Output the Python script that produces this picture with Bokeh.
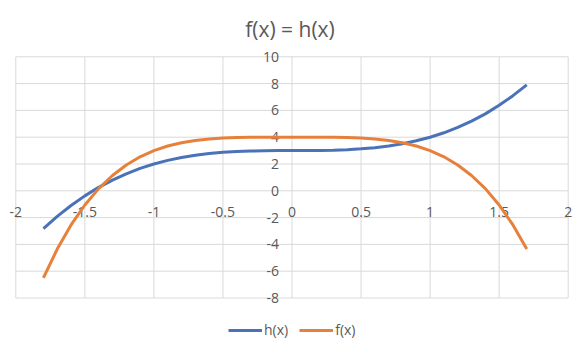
from bokeh.plotting import figure
from bokeh.models import Legend, LegendItem, Range1d, ColumnDataSource, Label
from bokeh.core.properties import value
from bokeh.embed import file_html
from bokeh.resources import INLINE

# ---- data ----
x_vals = [-1.8, -1.7, -1.6, -1.5, -1.4, -1.3, -1.2, -1.1, -1.0, -0.9, -0.8, -0.7,
          -0.6, -0.5, -0.4, -0.3, -0.2, -0.1, 0.0, 0.1, 0.2, 0.3, 0.4, 0.5,
          0.6, 0.7, 0.8, 0.9, 1.0, 1.1, 1.2, 1.3, 1.4, 1.5, 1.6, 1.7]
h_vals = [-2.83, -1.91, -1.10, -0.38, 0.26, 0.80, 1.27, 1.67, 2.00, 2.27, 2.49, 2.66,
          2.78, 2.88, 2.94, 2.97, 2.99, 3.00, 3.00, 3.00, 3.01, 3.03, 3.06, 3.13,
          3.22, 3.34, 3.51, 3.73, 4.00, 4.33, 4.73, 5.20, 5.74, 6.38, 7.10, 7.91]
f_vals = [-6.50, -4.35, -2.55, -1.06, 0.16, 1.14, 1.93, 2.54, 3.00, 3.34, 3.59, 3.76,
          3.87, 3.94, 3.97, 3.99, 4.00, 4.00, 4.00, 4.00, 4.00, 3.99, 3.97, 3.94,
          3.87, 3.76, 3.59, 3.34, 3.00, 2.54, 1.93, 1.14, 0.16, -1.06, -2.55, -4.35]
x_ticks = [-2, -1.5, -1, -0.5, 0, 0.5, 1, 1.5, 2]
x_tick_labels = ["-2", "-1.5", "-1", "-0.5", "0", "0.5", "1", "1.5", "2"]
y_ticks = [-8, -6, -4, -2, 0, 2, 4, 6, 8, 10]
y_tick_labels = ["-8", "-6", "-4", "-2", "0", "2", "4", "6", "8", "10"]
title_text = "f(x) = h(x)"
series_names = ["h(x)", "f(x)"]

# ---- layout (pixels) ----
W, H = 584, 349
PX_LEFT, PX_RIGHT = 15.3, 567.7     # pixel columns of x = -2 and x = 2
PX_TOP, PX_BOTTOM = 56.3, 297.5     # pixel rows of y = 10 and y = -8
xmin, xmax = x_ticks[0], x_ticks[-1]
ymin, ymax = y_ticks[0], y_ticks[-1]
sx = (PX_RIGHT - PX_LEFT) / (xmax - xmin)
sy = (PX_BOTTOM - PX_TOP) / (ymax - ymin)
x_range = Range1d(xmin - PX_LEFT / sx, xmax + (W - PX_RIGHT) / sx)
y_range = Range1d(ymin - (H - PX_BOTTOM) / sy, ymax + PX_TOP / sy)

FONT = "Open Sans"
TXT = "#595959"
GRID = "#d9d9d9"
BLUE = "#4A72B8"
ORANGE = "#E6803A"

p = figure(width=W, height=H, output_backend="svg", toolbar_location=None,
           x_range=x_range, y_range=y_range, title=None,
           x_axis_location=None, y_axis_location=None,
           min_border=0, min_border_left=0, min_border_right=0,
           min_border_top=0, min_border_bottom=0)
p.outline_line_color = None
p.grid.visible = False
p.background_fill_color = "white"
p.border_fill_color = "white"

# gridlines (the lines through 0 act as the axes)
p.segment(x0=x_ticks, y0=[ymin] * len(x_ticks), x1=x_ticks, y1=[ymax] * len(x_ticks),
          line_color=GRID, line_width=1)
p.segment(x0=[xmin] * len(y_ticks), y0=y_ticks, x1=[xmax] * len(y_ticks), y1=y_ticks,
          line_color=GRID, line_width=1)

# tick labels
xsrc = ColumnDataSource(dict(x=x_ticks, y=[0] * len(x_ticks), t=x_tick_labels))
p.text(x="x", y="y", text="t", source=xsrc, text_align="center",
       text_baseline="middle", y_offset=21, text_font=value(FONT),
       text_font_size="14px", text_color=TXT)
ysrc = ColumnDataSource(dict(x=[0] * len(y_ticks), y=y_ticks, t=y_tick_labels))
p.text(x="x", y="y", text="t", source=ysrc, text_align="right",
       text_baseline="middle", x_offset=-13, text_font=value(FONT),
       text_font_size="14px", text_color=TXT)

# series
rh = p.line(x_vals, h_vals, line_color=BLUE, line_width=3)
rf = p.line(x_vals, f_vals, line_color=ORANGE, line_width=3)

# title
p.add_layout(Label(x=289.5, y=H - 28, x_units="screen", y_units="screen",
                   text=title_text, text_align="center", text_baseline="alphabetic",
                   text_font=FONT, text_font_size="21px", text_color=TXT))

legend = Legend(items=[LegendItem(label=series_names[0], renderers=[rh]),
                       LegendItem(label=series_names[1], renderers=[rf])],
                orientation="horizontal", location=(228, 9.5),
                label_text_font=FONT, label_text_font_size="14px",
                label_text_color=TXT, glyph_width=34, glyph_height=20,
                label_standoff=2, spacing=11, border_line_color=None,
                background_fill_alpha=0, padding=0, margin=0)
p.add_layout(legend)

open("out.html", "w").write(file_html(p, INLINE))
